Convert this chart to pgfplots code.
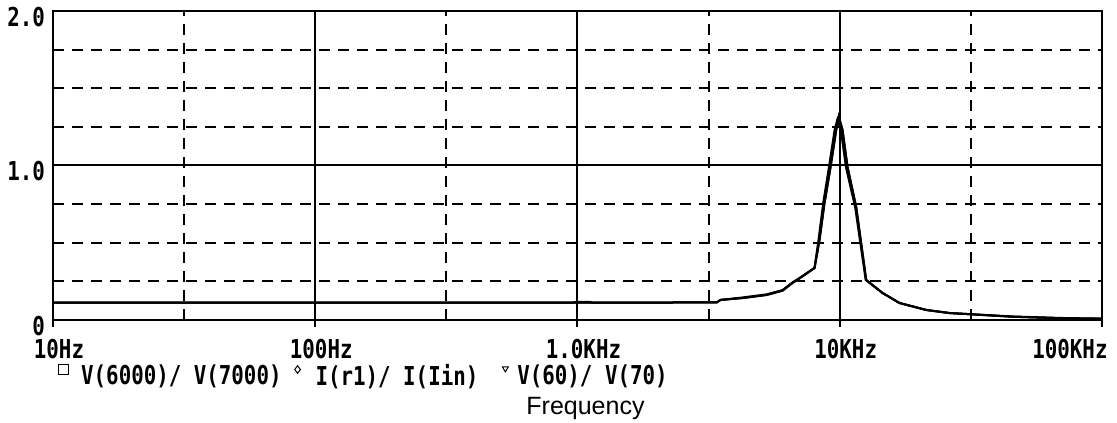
\documentclass[border=0pt]{standalone}
\usepackage{fontspec}
\setmainfont{Liberation Sans}
\newfontfamily\pix[FakeStretch=0.8]{DejaVu Sans Mono}
\usepackage{pgfplots}
\pgfplotsset{compat=1.18}
\usepackage{pgfplotstable}

\pgfplotstableread{
f v
10 0.112
100 0.112
1000 0.112
2000 0.113
3400 0.114
3512 0.130
4262 0.142
5260 0.162
6053 0.190
6607 0.240
7031 0.270
8015 0.336
8375 0.518
8750 0.757
9226 0.990
9697 1.230
9922 1.316
10250 1.230
10710 0.990
11560 0.730
12620 0.259
14560 0.175
16900 0.110
21370 0.065
26210 0.045
30340 0.039
45600 0.021
70660 0.011
100000 0.008
}\traceA

\pgfplotstableread{
f v
10 0.112
100 0.112
950 0.112
1000 0.118
1100 0.118
1150 0.112
2000 0.113
3400 0.114
3512 0.130
4262 0.146
5260 0.166
6053 0.194
6607 0.244
7031 0.272
8015 0.338
8300 0.518
8650 0.757
9100 0.990
9560 1.230
9800 1.300
10100 1.230
10560 0.990
11450 0.730
12560 0.259
14560 0.175
16900 0.110
21370 0.065
26210 0.045
30340 0.039
45600 0.023
70660 0.013
100000 0.009
}\traceB

\newcommand\pixfont{\pix\bfseries\fontsize{26}{30}\selectfont}

\begin{document}
\begin{tikzpicture}
\begin{axis}[
  at={(0pt,0pt)}, anchor=south west,
  scale only axis, width=1049pt, height=309pt,
  xmode=log, log basis x=10,
  xmin=10, xmax=100000, ymin=0, ymax=2,
  xtick={10,100,1000,10000},
  xticklabels={10Hz,100Hz,1.0KHz,10KHz},
  extra x ticks={100000},
  extra x tick labels={100KHz},
  extra x tick style={grid=major, xticklabel style={xshift=-38pt}},
  minor xtick={31.6228,316.228,3162.28,31622.8},
  ytick={0,1,2},
  yticklabels={0,1.0,2.0},
  minor ytick={0.25,0.5,0.75,1.25,1.5,1.75},
  grid=both,
  major grid style={black, line width=2pt},
  minor grid style={black, line width=2pt, dash pattern=on 11pt off 8pt},
  axis line style={black, line width=2pt},
  tick align=outside,
  major tick length=7pt, minor tick length=0pt,
  xtick pos=bottom, ytick pos=left,
  xtick style={black, line width=2pt},
  ytick style={draw=none},
  yticklabel style={font=\pixfont, anchor=east, inner sep=0pt, xshift=-1pt, yshift=-6pt},
  xticklabel style={font=\pixfont, anchor=north, inner sep=0pt, yshift=-12pt, xshift=6pt},
  xlabel={Frequency},
  xlabel style={at={(rel axis cs:0.5,0)}, anchor=north, inner sep=0pt, yshift=-77pt, xshift=8pt, font=\fontsize{25}{30}\selectfont},
  legend columns=3,
  legend cell align=left,
  legend style={at={(rel axis cs:0,0)}, anchor=north west, xshift=4pt, yshift=-44pt,
    draw=none, fill=none, inner sep=0pt, font=\pixfont,
    nodes={inner sep=0pt},
    /tikz/every even column/.append style={column sep=10pt}},
]
\addplot[black, line width=2pt, line join=miter,
  legend image code/.code={\path (0pt,0pt) (22pt,0pt);
    \draw[line width=1pt] plot[mark=square, mark size=4.8pt] coordinates {(5pt,6pt)};}]
  table[x=f, y=v] {\traceA};
\addlegendentry{V(6000)/ V(7000)}
\addplot[black, line width=2pt, line join=miter,
  legend image code/.code={\path (0pt,0pt) (22pt,0pt);
    \draw[line width=1pt] plot[mark=diamond, mark size=3.8pt] coordinates {(5pt,6pt)};}]
  table[x=f, y=v] {\traceB};
\addlegendentry{I(r1)/ I(Iin)}
\addplot[black, line width=2pt, line join=miter,
  legend image code/.code={\path (0pt,0pt) (27pt,0pt);
    \draw[line width=1pt] plot[mark=triangle, mark size=3.4pt, mark options={rotate=180}] coordinates {(16pt,7pt)};}]
  table[x=f, y=v] {\traceA};
\addlegendentry{V(60)/ V(70)}
\end{axis}
\pgfresetboundingbox
\useasboundingbox (-53pt,-103pt) rectangle (1064pt,320pt);
\end{tikzpicture}
\end{document}
